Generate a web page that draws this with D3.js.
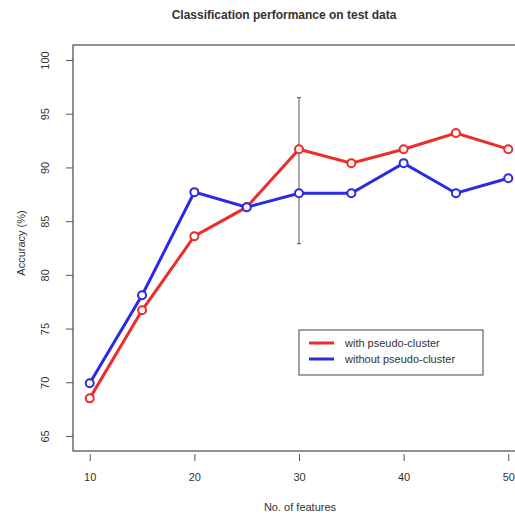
<!DOCTYPE html>
<html>
<head>
<meta charset="utf-8">
<script src="https://cdn.jsdelivr.net/npm/d3@7"></script>
<style>
	body { margin: 0; background: #fff; }
	text { font-family: "Liberation Sans", Arial, sans-serif; fill: #333; }
</style>
</head>
<body>
<div id="canvas"></div>
<script>
var features = [10, 15, 20, 25, 30, 35, 40, 45, 50]
var withCluster = [68.5, 76.7, 83.6, 86.3, 91.7, 90.4, 91.7, 93.2, 91.7]
var withoutCluster = [69.9, 78.1, 87.7, 86.3, 87.6, 87.6, 90.4, 87.6, 89.0]
var errorBar = { x: 30, low: 82.9, high: 96.5 }
var xTicks = [10, 20, 30, 40, 50]
var yTicks = [65, 70, 75, 80, 85, 90, 95, 100]
var seriesNames = ["with pseudo-cluster", "without pseudo-cluster"]
var seriesColors = ["#ee2c2c", "#2b2be6"]

var width = 515, height = 516
// plot region (window.top is taken, so keep these prefixed)
var plotLeft = 73, plotTop = 45, plotRight = 525, plotBottom = 451

var svg = d3.select('#canvas').append("svg")
	.attr("width", width)
	.attr("height", height)

// R style: 4% padding round the data range
var x = d3.scaleLinear().domain([8.4, 51.6]).range([plotLeft, plotRight])
var y = d3.scaleLinear().domain([63.6, 101.4]).range([plotBottom, plotTop])

// box
svg.append("rect")
	.attr("x", plotLeft).attr("y", plotTop)
	.attr("width", plotRight - plotLeft).attr("height", plotBottom - plotTop)
	.attr("fill", "none").attr("stroke", "#555").attr("stroke-width", 1.3)

var xAxis = svg.append("g")
	.attr("transform", "translate(0," + plotBottom + ")")
	.call(d3.axisBottom(x).tickValues(xTicks).tickSize(7).tickPadding(15))
xAxis.select(".domain").remove()
xAxis.selectAll("line").attr("stroke", "#555").attr("transform", "translate(0,3)")
xAxis.selectAll("text").style("font-size", "11px").attr("fill", "#444")

var yAxis = svg.append("g")
	.attr("transform", "translate(" + plotLeft + ",0)")
	.call(d3.axisLeft(y).tickValues(yTicks).tickSize(7))
yAxis.select(".domain").remove()
yAxis.selectAll("line").attr("stroke", "#555")
yAxis.selectAll("text")
	.style("font-size", "11px").attr("fill", "#444")
	.attr("x", null).attr("dy", null)
	.attr("text-anchor", "middle")
	.attr("transform", "translate(-24,0) rotate(-90)")

// titles
svg.append("text").attr("x", 284).attr("y", 19)
	.attr("text-anchor", "middle").style("font-size", "12px").style("font-weight", "bold")
	.attr("fill", "#222")
	.text("Classification performance on test data")
svg.append("text").attr("x", 300).attr("y", 511)
	.attr("text-anchor", "middle").style("font-size", "11px").attr("fill", "#444")
	.text("No. of features")
svg.append("text").attr("transform", "translate(25,243) rotate(-90)")
	.attr("text-anchor", "middle").style("font-size", "11px").attr("fill", "#444")
	.text("Accuracy (%)")

// error bar
svg.append("line")
	.attr("x1", x(errorBar.x)).attr("x2", x(errorBar.x))
	.attr("y1", y(errorBar.low)).attr("y2", y(errorBar.high))
	.attr("stroke", "#555").attr("stroke-width", 1)
svg.selectAll(".cap").data([errorBar.low, errorBar.high]).enter().append("line")
	.attr("x1", x(errorBar.x) - 2).attr("x2", x(errorBar.x) + 2)
	.attr("y1", function (d) { return y(d) }).attr("y2", function (d) { return y(d) })
	.attr("stroke", "#555")

var line = d3.line()
	.x(function (d) { return x(d[0]) })
	.y(function (d) { return y(d[1]) })

var series = [withCluster, withoutCluster]
series.forEach(function (vals, k) {
	var pts = features.map(function (f, i) { return [f, vals[i]] })
	svg.append("path").datum(pts)
		.attr("d", line)
		.attr("fill", "none")
		.attr("stroke", seriesColors[k])
		.attr("stroke-width", 3)
	svg.selectAll(".pt" + k).data(pts).enter().append("circle")
		.attr("cx", function (d) { return x(d[0]) })
		.attr("cy", function (d) { return y(d[1]) })
		.attr("r", 4)
		.attr("fill", "#fff")
		.attr("stroke", seriesColors[k])
		.attr("stroke-width", 2)
})

// legend
var legend = svg.append("g").attr("transform", "translate(299,330)")
legend.append("rect").attr("width", 184).attr("height", 45)
	.attr("fill", "#fff").attr("stroke", "#444").attr("stroke-width", 1)
seriesNames.forEach(function (name, k) {
	legend.append("line")
		.attr("x1", 10).attr("x2", 35)
		.attr("y1", 13 + k * 16).attr("y2", 13 + k * 16)
		.attr("stroke", seriesColors[k]).attr("stroke-width", 3)
	legend.append("text")
		.attr("x", 46).attr("y", 17 + k * 16)
		.style("font-size", "11px").attr("fill", "#444")
		.text(name)
})
</script>
</body>
</html>
